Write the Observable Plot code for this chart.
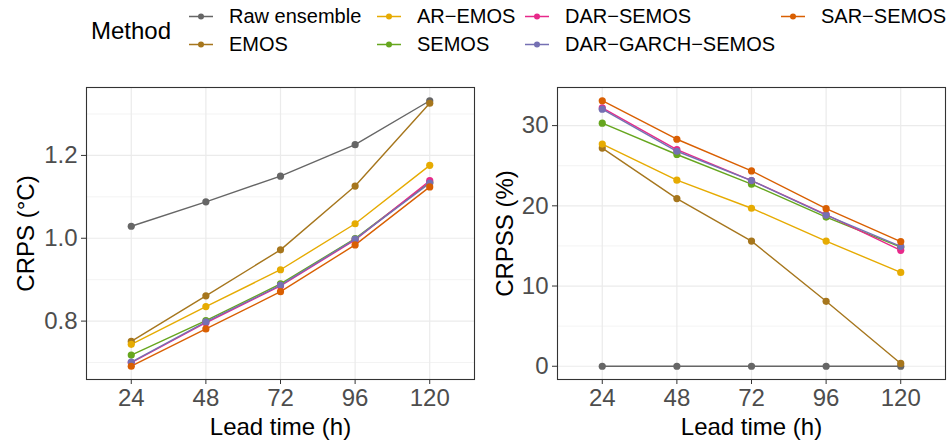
<!DOCTYPE html>
<html>
<head>
<meta charset="utf-8">
<script src="https://cdn.jsdelivr.net/npm/d3@7"></script>
<script src="https://cdn.jsdelivr.net/npm/@observablehq/plot@0.6"></script>
<style>
  html, body { margin: 0; padding: 0; background: #ffffff; }
  #root { position: relative; width: 950px; height: 445px; overflow: hidden; font-family: "Liberation Sans", Arial, sans-serif; }
  .panel { position: absolute; top: 0; }
  .legend-title { position: absolute; left: 91px; top: 31px; transform: translateY(-50%); font-size: 24px; color: #000; }
  .item { position: absolute; display: flex; align-items: center; transform: translateY(-50%); font-size: 20px; color: #000; white-space: nowrap; }
  .item svg { display: block; margin-right: 16px; }
</style>
</head>
<body>
<div id="root"></div>
<script>
// ---- data ----
const leadTimes = [24, 48, 72, 96, 120];
const methods = ["Raw ensemble", "EMOS", "AR-EMOS", "SEMOS", "DAR-SEMOS", "DAR-GARCH-SEMOS", "SAR-SEMOS"];
const methodColors = ["#666666", "#A6761D", "#E6AB02", "#66A61E", "#E7298A", "#7570B3", "#D95F02"];

// CRPS (°C)
const crpsRaw      = [1.029, 1.088, 1.150, 1.226, 1.332];
const crpsEMOS     = [0.751, 0.861, 0.972, 1.126, 1.326];
const crpsAREMOS   = [0.744, 0.835, 0.924, 1.035, 1.176];
const crpsSEMOS    = [0.718, 0.801, 0.890, 0.999, 1.135];
const crpsDAR      = [0.700, 0.796, 0.885, 0.996, 1.139];
const crpsDARGARCH = [0.701, 0.798, 0.887, 0.998, 1.133];
const crpsSAR      = [0.691, 0.781, 0.871, 0.984, 1.124];

// CRPSS (%)
const crpssRaw      = [0, 0, 0, 0, 0];
const crpssEMOS     = [27.2, 20.9, 15.6, 8.1, 0.35];
const crpssAREMOS   = [27.7, 23.2, 19.7, 15.6, 11.7];
const crpssSEMOS    = [30.3, 26.4, 22.7, 18.6, 14.85];
const crpssDAR      = [32.2, 27.0, 23.15, 18.9, 14.45];
const crpssDARGARCH = [32.05, 26.8, 23.15, 18.85, 14.95];
const crpssSAR      = [33.1, 28.3, 24.35, 19.65, 15.55];

const crpsSeries  = [crpsRaw, crpsEMOS, crpsAREMOS, crpsSEMOS, crpsDAR, crpsDARGARCH, crpsSAR];
const crpssSeries = [crpssRaw, crpssEMOS, crpssAREMOS, crpssSEMOS, crpssDAR, crpssDARGARCH, crpssSAR];

const crpsTicks = [0.8, 1.0, 1.2];
const crpsMinor = [0.7, 0.9, 1.1, 1.3];
const crpssTicks = [0, 10, 20, 30];
const crpssMinor = [5, 15, 25];

const dispName = m => m.replace(/-/g, "\u2212");

function toRows(series) {
  const rows = [];
  methods.forEach((m, i) => leadTimes.forEach((t, j) => rows.push({method: m, lead: t, value: series[i][j]})));
  return rows;
}

const FONT = '"Liberation Sans", Arial, sans-serif';

function panel({rows, width, marginLeft, marginRight, yDomain, ticks, minor, fmt, title, titleDx}) {
  return Plot.plot({
    width, height: 445,
    marginLeft, marginRight, marginTop: 87, marginBottom: 66,
    style: {fontFamily: FONT, fontSize: "24px", background: "transparent", overflow: "visible"},
    x: {domain: [24 - 0.6 * 24, 120 + 0.6 * 24]},
    y: {domain: yDomain},
    color: {domain: methods, range: methodColors},
    marks: [
      Plot.gridY(minor, {stroke: "#ebebeb", strokeOpacity: 1, strokeWidth: 0.6}),
      Plot.gridY(ticks, {stroke: "#ebebeb", strokeOpacity: 1, strokeWidth: 1.2}),
      Plot.gridX(leadTimes, {stroke: "#ebebeb", strokeOpacity: 1, strokeWidth: 1.2}),
      Plot.line(rows, {x: "lead", y: "value", z: "method", stroke: "method", strokeWidth: 1.4}),
      Plot.dot(rows, {x: "lead", y: "value", fill: "method", r: 3.6}),
      Plot.frame({stroke: "#333333", strokeWidth: 1.1}),
      Plot.axisX(leadTimes, {tickSize: 5, tickPadding: 4, stroke: "#333333", fill: "#4d4d4d", fontSize: 24, label: null, tickFormat: d3.format("d")}),
      Plot.axisY(ticks, {tickSize: 5, tickPadding: 4, stroke: "#333333", fill: "#4d4d4d", fontSize: 24, label: null, tickFormat: fmt}),
      Plot.text(["Lead time (h)"], {frameAnchor: "bottom", dy: 47.5, lineAnchor: "middle", textAnchor: "middle", fontSize: 24, fill: "#000"}),
      Plot.text([title], {frameAnchor: "left", rotate: -90, dx: titleDx, lineAnchor: "middle", textAnchor: "middle", fontSize: 24, fill: "#000"})
    ]
  });
}

const root = document.getElementById("root");

const left = panel({
  rows: toRows(crpsSeries), width: 478, marginLeft: 86, marginRight: 4,
  yDomain: [0.659, 1.364], ticks: crpsTicks, minor: crpsMinor, fmt: d3.format(".1f"),
  title: "CRPS (°C)", titleDx: -60.5
});
left.classList.add("panel");
left.style.left = "0px";
root.appendChild(left);

const right = panel({
  rows: toRows(crpssSeries), width: 475, marginLeft: 82, marginRight: 5,
  yDomain: [-1.65, 34.75], ticks: crpssTicks, minor: crpssMinor, fmt: d3.format("d"),
  title: "CRPSS (%)", titleDx: -52
});
right.classList.add("panel");
right.style.left = "475px";
root.appendChild(right);

// ---- legend ----
const lt = document.createElement("div");
lt.className = "legend-title";
lt.textContent = "Method";
root.appendChild(lt);

const colX = [189, 377, 525, 781];
const rowY = [16, 44];
methods.forEach((m, i) => {
  const col = Math.floor(i / 2), row = i % 2;
  const d = document.createElement("div");
  d.className = "item";
  d.style.left = colX[col] + "px";
  d.style.top = rowY[row] + "px";
  const c = methodColors[i];
  d.innerHTML = `<svg width="24" height="14"><line x1="0" x2="24" y1="7" y2="7" stroke="${c}" stroke-width="1.6"/><circle cx="12" cy="7" r="3" fill="${c}"/></svg><span>${dispName(m)}</span>`;
  root.appendChild(d);
});
</script>
</body>
</html>
